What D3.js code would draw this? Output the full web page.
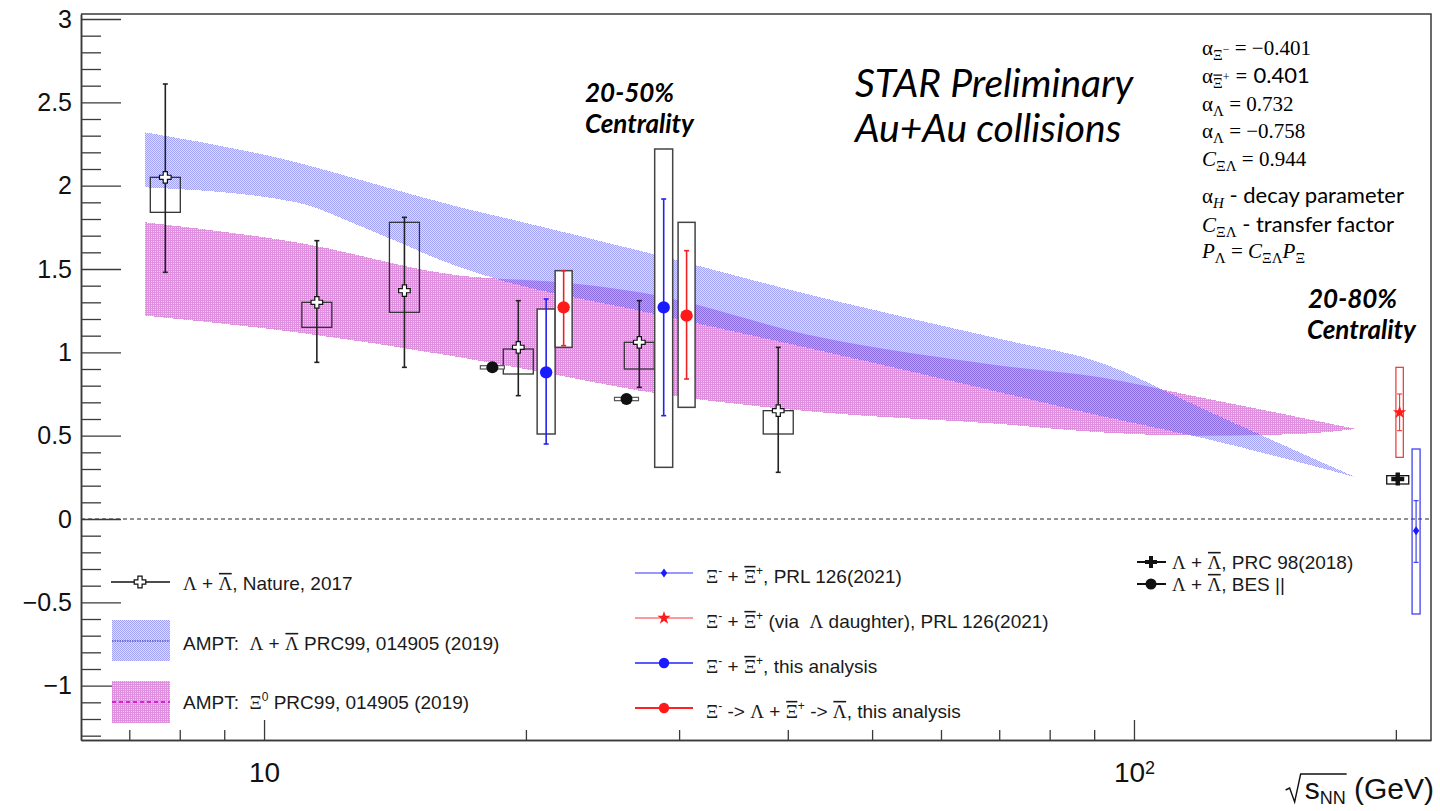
<!DOCTYPE html>
<html>
<head>
<meta charset="utf-8">
<script src="https://cdn.jsdelivr.net/npm/d3@7"></script>
<style>
  html, body { margin: 0; padding: 0; background: #fff; }
  svg { display: block; }
  text { white-space: pre; }
</style>
</head>
<body>
<svg id="chart" width="1440" height="811"></svg>
<script>
// ---------- AMPT model bands (global polarization, %) ----------
const amptLambdaE  = [7.3, 10.9, 13.0, 16.8, 18.8, 27.0, 43.6, 70.2, 91.4, 119, 155, 180];
const amptLambdaHi = [2.32, 2.14, 2.03, 1.87, 1.81, 1.61, 1.33, 1.08, 0.94, 0.67, 0.40, 0.25];
const amptLambdaLo = [1.99, 1.90, 1.75, 1.51, 1.43, 1.25, 1.01, 0.76, 0.62, 0.49, 0.34, 0.25];

const amptXiE  = [7.3, 10.9, 16.8, 21.9, 27.0, 43.6, 70.2, 91.4, 119, 155, 180];
const amptXiHi = [1.78, 1.66, 1.46, 1.42, 1.36, 1.09, 0.92, 0.85, 0.73, 0.61, 0.54];
const amptXiLo = [1.22, 1.12, 0.97, 0.86, 0.77, 0.64, 0.57, 0.52, 0.50, 0.51, 0.54];

// ---------- Λ + anti-Λ, Nature 2017 ----------
const natureE      = [7.7, 11.5, 14.5, 19.6, 27, 39];
const natureP      = [2.05, 1.30, 1.37, 1.03, 1.06, 0.65];
const natureStatLo = [1.48, 0.94, 0.91, 0.74, 0.79, 0.28];
const natureStatHi = [2.61, 1.67, 1.81, 1.31, 1.31, 1.03];
const natureSysLo  = [1.84, 1.15, 1.24, 0.87, 0.90, 0.51];
const natureSysHi  = [2.05, 1.30, 1.78, 1.02, 1.06, 0.65];

// ---------- Λ + anti-Λ, BES II (plotted slightly left of 19.6 / 27) ----------
const besE     = [18.3, 26.1];
const besP     = [0.91, 0.72];
const besSysLo = [0.90, 0.71];
const besSysHi = [0.92, 0.73];

// ---------- Ξ- + anti-Ξ+, this analysis (plotted slightly right) ----------
const xiE      = [21.1, 28.8];
const xiP      = [0.88, 1.27];
const xiStatLo = [0.45, 0.62];
const xiStatHi = [1.32, 1.92];
const xiSysLo  = [0.51, 0.31];
const xiSysHi  = [1.26, 2.22];

// ---------- Ξ -> Λ daughter, this analysis ----------
const xiLamE      = [22.1, 30.6];
const xiLamP      = [1.27, 1.22];
const xiLamStatLo = [1.04, 0.84];
const xiLamStatHi = [1.49, 1.61];
const xiLamSysLo  = [1.03, 0.67];
const xiLamSysHi  = [1.49, 1.78];

// ---------- 200 GeV, 20-80% ----------
const prc98E = [201], prc98P = [0.24], prc98SysLo = [0.21], prc98SysHi = [0.26];
const prlXiE = [211], prlXiP = [-0.07], prlXiStatLo = [-0.26], prlXiStatHi = [0.11], prlXiSysLo = [-0.57], prlXiSysHi = [0.42];
const prlLamE = [202], prlLamP = [0.64], prlLamStatLo = [0.53], prlLamStatHi = [0.75], prlLamSysLo = [0.37], prlLamSysHi = [0.91];

// ---------- axis ticks ----------
const xMajorTicks = [10, 100];
const xMinorTicks = [7, 8, 9, 20, 30, 40, 50, 60, 70, 80, 90, 200];
const yMajorTicks = [-1, -0.5, 0, 0.5, 1, 1.5, 2, 2.5, 3];
const yMinorTicks = d3.range(-13, 31).map(i => i / 10).filter(v => Math.abs(v * 2 - Math.round(v * 2)) > 1e-6);

// ---------- layout ----------
const svg = d3.select("#chart");
const x = d3.scaleLog().domain([6.16, 219.5]).range([81, 1431]);
const y = d3.scaleLinear().domain([-1.326, 3.03]).range([740, 14]);
const SANS = "'Liberation Sans', Arial, Helvetica, sans-serif";
const SERIF = "'Liberation Serif', 'DejaVu Serif', serif";
const CAL = "Lato, 'Open Sans', sans-serif";

// dotted fill patterns (ROOT-style fill styles)
const defs = svg.append("defs");
function dotPattern(id, on, off, cells) {
  const p = defs.append("pattern").attr("id", id).attr("patternUnits", "userSpaceOnUse")
    .attr("width", 2).attr("height", 2);
  p.append("rect").attr("x", 0).attr("y", 0).attr("width", 2).attr("height", 2).attr("fill", off);
  cells.forEach(([cx, cy]) => p.append("rect").attr("x", cx).attr("y", cy).attr("width", 1).attr("height", 1).attr("fill", on));
}
dotPattern("dotBlue", "#a2a2f6", "#dcdcfc", [[0, 0], [1, 1]]);
dotPattern("dotPink", "#e08ee0", "#f4cef4", [[0, 0], [0, 1], [1, 0]]);
dotPattern("dotMix", "#8c6ce2", "#c4a2ee", [[0, 0], [1, 1]]);

// ---------- bands ----------
const bandArea = d3.area().x(d => x(d.e)).y0(d => y(d.lo)).y1(d => y(d.hi)).curve(d3.curveMonotoneX);
const bandPts = (E, lo, hi) => E.map((e, i) => ({ e, lo: lo[i], hi: hi[i] }));
const xiBand = bandPts(amptXiE, amptXiLo, amptXiHi);
const lamBand = bandPts(amptLambdaE, amptLambdaLo, amptLambdaHi);

defs.append("clipPath").attr("id", "xiClip").append("path").datum(xiBand).attr("d", bandArea);

svg.append("path").datum(xiBand).attr("d", bandArea).attr("fill", "url(#dotPink)").attr("shape-rendering", "crispEdges");
svg.append("path").datum(lamBand).attr("d", bandArea).attr("fill", "url(#dotBlue)").attr("shape-rendering", "crispEdges");
// region where the two model bands overlap
svg.append("path").datum(lamBand).attr("d", bandArea).attr("clip-path", "url(#xiClip)")
  .attr("fill", "url(#dotMix)").attr("shape-rendering", "crispEdges");

// ---------- zero line ----------
svg.append("line").attr("x1", x.range()[0]).attr("x2", x.range()[1]).attr("y1", y(0)).attr("y2", y(0))
  .attr("stroke", "#222").attr("stroke-width", 1).attr("stroke-dasharray", "4 3");

// ---------- axes ----------
const axisColor = "#3a3a3a";
function styleAxis(g) {
  g.selectAll(".domain").attr("stroke", axisColor).attr("stroke-width", 1.5);
  g.selectAll(".tick line").attr("stroke", axisColor).attr("stroke-width", 1.3);
}
const gx = svg.append("g").attr("transform", `translate(0,${y.range()[0]})`);
gx.append("g").call(d3.axisBottom(x).tickValues(xMinorTicks).tickSize(-10).tickSizeOuter(0).tickFormat(""))
  .call(styleAxis);
const gxMaj = gx.append("g").call(d3.axisBottom(x).tickValues(xMajorTicks).tickSize(-20).tickSizeOuter(0)
  .tickPadding(22).tickFormat(() => "10")).call(styleAxis);
gxMaj.attr("font-family", SANS).attr("font-size", 28);
gxMaj.selectAll("text").attr("fill", "#111").each(function (d) {
  if (d === 100) {
    d3.select(this).append("tspan").attr("dy", "-0.45em").attr("font-size", 18).text("2");
  }
});

const yFmt = v => (v < 0 ? "\u2212" : "") + Math.abs(v);
const gy = svg.append("g").attr("transform", `translate(${x.range()[0]},0)`);
gy.append("g").call(d3.axisLeft(y).tickValues(yMinorTicks).tickSize(-20).tickSizeOuter(0).tickFormat(""))
  .call(styleAxis);
const gyMaj = gy.append("g").call(d3.axisLeft(y).tickValues(yMajorTicks).tickSize(-40).tickSizeOuter(0)
  .tickPadding(9).tickFormat(yFmt)).call(styleAxis);
gyMaj.attr("font-family", SANS).attr("font-size", 25);
gyMaj.selectAll("text").attr("fill", "#111");

// top and right frame
svg.append("path")
  .attr("d", `M${x.range()[0]},${y.range()[1]}H${x.range()[1]}V${y.range()[0]}`)
  .attr("fill", "none").attr("stroke", axisColor).attr("stroke-width", 1.5);

// ---------- marker helpers ----------
function crossPath(L, a) {
  return `M${-a},${-L}H${a}V${-a}H${L}V${a}H${a}V${L}H${-a}V${a}H${-L}V${-a}H${-a}Z`;
}
function sysBoxes(E, lo, hi, half, stroke, fill, sw) {
  svg.append("g").selectAll("rect").data(E).join("rect")
    .attr("x", d => x(d) - half).attr("width", half * 2)
    .attr("y", (d, i) => y(hi[i])).attr("height", (d, i) => y(lo[i]) - y(hi[i]))
    .attr("fill", fill).attr("stroke", stroke).attr("stroke-width", sw);
}
function errBars(E, lo, hi, color, sw, cap) {
  const g = svg.append("g").attr("stroke", color).attr("stroke-width", sw);
  E.forEach((e, i) => {
    const cx = x(e);
    g.append("line").attr("x1", cx).attr("x2", cx).attr("y1", y(hi[i])).attr("y2", y(lo[i]));
    g.append("line").attr("x1", cx - cap).attr("x2", cx + cap).attr("y1", y(hi[i])).attr("y2", y(hi[i]));
    g.append("line").attr("x1", cx - cap).attr("x2", cx + cap).attr("y1", y(lo[i])).attr("y2", y(lo[i]));
  });
}
function markers(E, P, draw) {
  E.forEach((e, i) => draw(svg.append("g").attr("transform", `translate(${x(e)},${y(P[i])})`)));
}
const openCross = g => g.append("path").attr("d", crossPath(5.8, 2.1)).attr("fill", "#fff").attr("stroke", "#111").attr("stroke-width", 1.2);
const fullCross = g => g.append("path").attr("d", crossPath(6.5, 2.2)).attr("fill", "#111");
const dotBlack = g => g.append("circle").attr("r", 6).attr("fill", "#111");
const dotBlue = g => g.append("circle").attr("r", 6.2).attr("fill", "#1a1aff");
const dotRed = g => g.append("circle").attr("r", 6.2).attr("fill", "#ff1a1a");
const diamondBlue = g => g.append("path").attr("d", "M0,-4.5L3.2,0L0,4.5L-3.2,0Z").attr("fill", "#1a1aff");
const starRed = g => g.append("path").attr("d", d3.symbol(d3.symbolStar, 55)()).attr("fill", "#ff1a1a");

// ---------- Nature 2017 ----------
sysBoxes(natureE, natureSysLo, natureSysHi, 15, "#333", "none", 1.3);
errBars(natureE, natureStatLo, natureStatHi, "#222", 1.6, 2.5);
markers(natureE, natureP, openCross);

// ---------- BES II ----------
sysBoxes(besE, besSysLo, besSysHi, 12, "#555", "#fff", 1.2);
markers(besE, besP, dotBlack);

// ---------- this analysis ----------
sysBoxes(xiE, xiSysLo, xiSysHi, 9, "#444", "#fff", 1.5);
sysBoxes(xiLamE, xiLamSysLo, xiLamSysHi, 8.5, "#444", "#fff", 1.5);
errBars(xiE, xiStatLo, xiStatHi, "#2222ee", 1.6, 2.5);
errBars(xiLamE, xiLamStatLo, xiLamStatHi, "#ee2222", 1.6, 2.5);
markers(xiE, xiP, dotBlue);
markers(xiLamE, xiLamP, dotRed);

// ---------- 200 GeV ----------
sysBoxes(prc98E, prc98SysLo, prc98SysHi, 11, "#111", "#fff", 1.3);
markers(prc98E, prc98P, fullCross);
sysBoxes(prlLamE, prlLamSysLo, prlLamSysHi, 3.7, "#ee3333", "none", 1.2);
errBars(prlLamE, prlLamStatLo, prlLamStatHi, "#ee3333", 1.1, 2.5);
markers(prlLamE, prlLamP, starRed);
sysBoxes(prlXiE, prlXiSysLo, prlXiSysHi, 4, "#3333ee", "none", 1.2);
errBars(prlXiE, prlXiStatLo, prlXiStatHi, "#3333ee", 1.1, 2.5);
markers(prlXiE, prlXiP, diamondBlue);

// ---------- rich text (greek, sub/superscripts, overlines) ----------
function rich(parent, px, py, segs, opt) {
  const size = opt.size, fill = opt.fill || "#111";
  const t = parent.append("text").attr("x", px).attr("y", py)
    .attr("xml:space", "preserve")
    .attr("font-family", opt.family).attr("font-size", size).attr("fill", fill);
  if (opt.weight) t.attr("font-weight", opt.weight);
  if (opt.style) t.attr("font-style", opt.style);
  if (opt.anchor) t.attr("text-anchor", opt.anchor);
  let shift = 0, idx = 0;
  const overs = [];
  segs.forEach(s => {
    if (typeof s === "string") s = { t: s };
    const sp = t.append("tspan").text(s.t);
    const up = s.up || 0;
    if (up !== shift) { sp.attr("dy", shift - up); shift = up; }
    if (s.f) sp.attr("font-family", s.f);
    if (s.it) sp.attr("font-style", "italic");
    if (s.sz) sp.attr("font-size", s.sz);
    if (s.over) overs.push({ a: idx, b: idx + s.t.length - 1, up, sz: s.sz || size });
    idx += s.t.length;
  });
  const node = t.node();
  overs.forEach(o => {
    const x0 = node.getStartPositionOfChar(o.a).x;
    const x1 = node.getEndPositionOfChar(o.b).x;
    const yy = py - o.up - o.sz * 0.86;
    parent.append("line").attr("x1", x0 + 0.5).attr("x2", x1 - 0.5).attr("y1", yy).attr("y2", yy)
      .attr("stroke", fill).attr("stroke-width", Math.max(1.2, o.sz / 12));
  });
  return t;
}
const L = t => ({ t, f: SERIF });
const Lb = t => ({ t, f: SERIF, over: true });
const sup = t => ({ t, up: 8, sz: 12 });

// ---------- legend: left ----------
const lg1 = svg.append("g");
const leg1 = { size: 19, family: SANS, fill: "#1a1a1a" };
lg1.append("line").attr("x1", 111).attr("x2", 170).attr("y1", 582).attr("y2", 582).attr("stroke", "#111").attr("stroke-width", 1.3);
openCross(lg1.append("g").attr("transform", "translate(140,582)"));
rich(lg1, 183, 590, [L("\u039b"), " + ", Lb("\u039b"), ", Nature, 2017"], leg1);

lg1.append("rect").attr("x", 112).attr("y", 620).attr("width", 58).attr("height", 41).attr("fill", "url(#dotBlue)");
lg1.append("line").attr("x1", 112).attr("x2", 170).attr("y1", 641).attr("y2", 641)
  .attr("stroke", "#2a2a90").attr("stroke-width", 1.2).attr("stroke-dasharray", "1.5 1");
rich(lg1, 183, 650, ["AMPT:  ", L("\u039b"), " + ", Lb("\u039b"), " PRC99, 014905 (2019)"], leg1);

lg1.append("rect").attr("x", 112).attr("y", 681).attr("width", 58).attr("height", 42).attr("fill", "url(#dotPink)");
lg1.append("line").attr("x1", 112).attr("x2", 170).attr("y1", 702).attr("y2", 702)
  .attr("stroke", "#cc00cc").attr("stroke-width", 1.5).attr("stroke-dasharray", "4 3");
rich(lg1, 183, 709, ["AMPT:  ", L("\u039e"), sup("0"), " PRC99, 014905 (2019)"], leg1);

// ---------- legend: middle ----------
const lg2 = svg.append("g");
const leg2Rows = [
  { y: 573, color: "#3333ff", w: 1.1, mark: diamondBlue,
    segs: [L("\u039e"), sup("-"), " + ", Lb("\u039e"), sup("+"), ", PRL 126(2021)"] },
  { y: 618, color: "#ff3333", w: 1.1, mark: starRed,
    segs: [L("\u039e"), sup("-"), " + ", Lb("\u039e"), sup("+"), " (via  ", L("\u039b"), " daughter), PRL 126(2021)"] },
  { y: 663, color: "#2222ff", w: 1.5, mark: g => g.append("circle").attr("r", 5.2).attr("fill", "#1a1aff"),
    segs: [L("\u039e"), sup("-"), " + ", Lb("\u039e"), sup("+"), ", this analysis"] },
  { y: 708, color: "#ff2222", w: 2.2, mark: g => g.append("circle").attr("r", 5.2).attr("fill", "#ff1a1a"),
    segs: [L("\u039e"), sup("-"), " -> ", L("\u039b"), " + ", Lb("\u039e"), sup("+"), " -> ", Lb("\u039b"), ", this analysis"] }
];
leg2Rows.forEach(r => {
  lg2.append("line").attr("x1", 635).attr("x2", 693).attr("y1", r.y).attr("y2", r.y)
    .attr("stroke", r.color).attr("stroke-width", r.w);
  r.mark(lg2.append("g").attr("transform", `translate(664,${r.y})`));
  rich(lg2, 706, r.y + 10, r.segs, leg1);
});

// ---------- legend: right ----------
const lg3 = svg.append("g");
[
  { y: 562, mark: g => g.append("path").attr("d", crossPath(6, 2)).attr("fill", "#111"), label: ", PRC 98(2018)" },
  { y: 584, mark: g => g.append("circle").attr("r", 5.5).attr("fill", "#111"), label: ", BES ||" }
].forEach(r => {
  lg3.append("line").attr("x1", 1137).attr("x2", 1166).attr("y1", r.y).attr("y2", r.y).attr("stroke", "#111").attr("stroke-width", 2);
  r.mark(lg3.append("g").attr("transform", `translate(1151,${r.y})`));
  rich(lg3, 1172, r.y + 7, [L("\u039b"), " + ", Lb("\u039b"), r.label], leg1);
});

// ---------- annotations ----------
const ann = svg.append("g");
const bi = { size: 26, family: CAL, weight: 700, style: "italic", fill: "#000" };
rich(ann, 585, 102, ["20-50%"], bi);
rich(ann, 585, 133, ["Centrality"], bi);
rich(ann, 1308, 308, ["20-80%"], bi);
rich(ann, 1307, 339, ["Centrality"], bi);

const starOpt = { size: 39, family: CAL, style: "italic", fill: "#000" };
rich(ann, 855, 97, ["STAR Preliminary"], starOpt);
rich(ann, 855, 142, ["Au+Au collisions"], starOpt);

// decay parameters and transfer factor
const fm = { size: 21, family: SERIF, fill: "#000" };
const sub = (t, extra) => Object.assign({ t, up: -5, sz: 15 }, extra || {});
const fx = 1202;
rich(ann, fx, 55, ["\u03b1", sub("\u039e"), { t: "\u2212", up: 2, sz: 12 }, " = \u22120.401"], fm);
rich(ann, fx, 83, ["\u03b1", sub("\u039e", { over: true }), { t: "+", up: 2, sz: 12 }, { t: " = 0.401", f: CAL, sz: 22 }], fm);
rich(ann, fx, 111, ["\u03b1", sub("\u039b"), " = 0.732"], fm);
rich(ann, fx, 138, ["\u03b1", sub("\u039b"), " = \u22120.758"], fm);
rich(ann, fx, 166, [{ t: "C", it: true }, sub("\u039e\u039b"), " = 0.944"], fm);
rich(ann, fx, 203, ["\u03b1", sub("H", { it: true }), { t: " - decay parameter", f: CAL, sz: 22 }], fm);
rich(ann, fx, 232, [{ t: "C", it: true }, sub("\u039e\u039b"), { t: " - transfer factor", f: CAL, sz: 22 }], fm);
rich(ann, fx, 258, [{ t: "P", it: true }, sub("\u039b"), " = ", { t: "C", it: true }, sub("\u039e\u039b"), { t: "P", it: true }, sub("\u039e")], fm);

// ---------- x-axis title: √s_NN (GeV) with a drawn radical ----------
const titleBase = 799;
const title = rich(ann, 1434, titleBase, ["s", { t: "NN", up: -5, sz: 18 }, " (GeV)"],
  { size: 30, family: SANS, fill: "#111", anchor: "end" });
{
  const n = title.node();
  const sx = n.getStartPositionOfChar(0).x;
  const ex = n.getEndPositionOfChar(2).x + 1;
  const top = titleBase - 25;
  ann.append("path")
    .attr("d", `M${sx - 19},${titleBase - 9}L${sx - 15},${titleBase - 11}L${sx - 10},${titleBase + 3}L${sx - 4},${top}H${ex}`)
    .attr("fill", "none").attr("stroke", "#111").attr("stroke-width", 1.4).attr("stroke-linejoin", "miter");
}
</script>
</body>
</html>
